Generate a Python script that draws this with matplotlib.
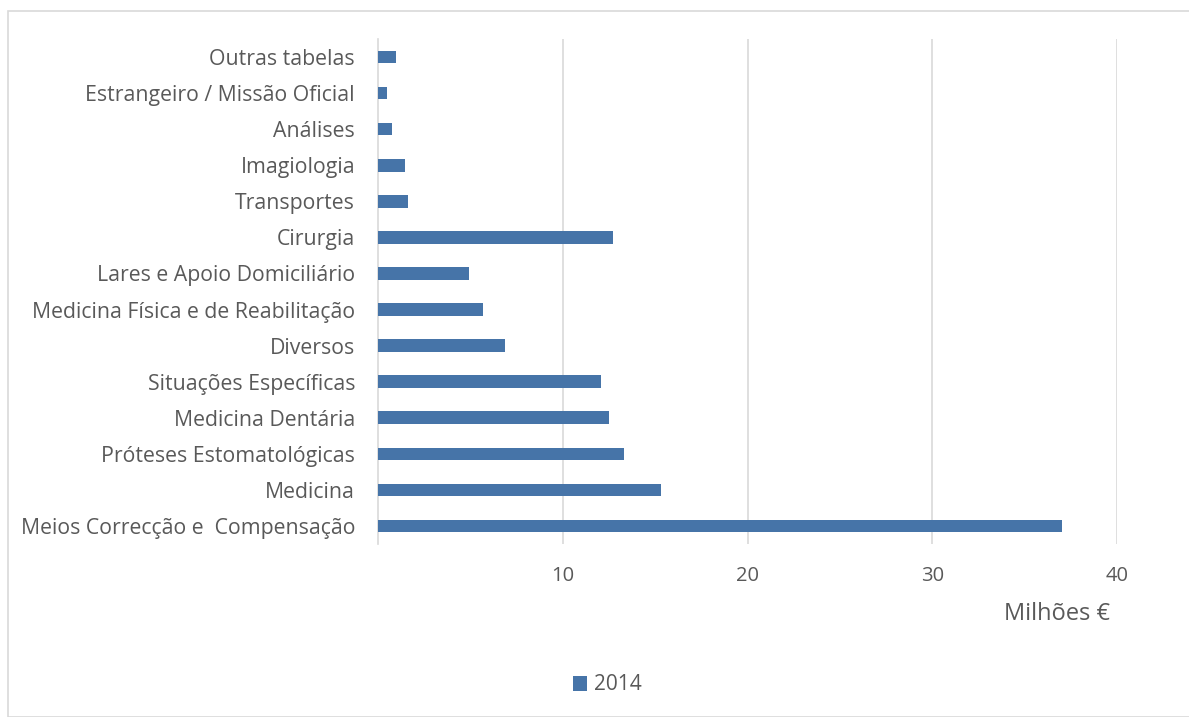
import matplotlib.pyplot as plt
from matplotlib.patches import Rectangle

plt.rcParams['font.family'] = ['Open Sans', 'DejaVu Sans']

# categorias (de baixo para cima)
categorias = ['Meios Correcção e  Compensação', 'Medicina', 'Próteses Estomatológicas',
              'Medicina Dentária', 'Situações Específicas', 'Diversos',
              'Medicina Física e de Reabilitação', 'Lares e Apoio Domiciliário',
              'Cirurgia', 'Transportes', 'Imagiologia', 'Análises',
              'Estrangeiro / Missão Oficial', 'Outras tabelas']
# valores 2014 (milhões €)
valores_2014 = [37.05, 15.3, 13.33, 12.5, 12.06, 6.89, 5.7, 4.95,
                12.73, 1.6, 1.45, 0.78, 0.5, 0.95]
xticks = [10, 20, 30, 40]

cor = '#4674a8'
cinza = '#595959'

fig = plt.figure(figsize=(11.89, 7.17), dpi=100)
ax = fig.add_axes([378/1189, 1 - 544/717, (1117 - 378)/1189, (544 - 39)/717])

ax.barh(range(len(categorias)), valores_2014, height=0.35, color=cor, label='2014', zorder=3)

ax.set_xlim(0, 40)
ax.set_ylim(-0.5, len(categorias) - 0.5)
ax.set_xticks(xticks)
ax.set_yticks(range(len(categorias)))
ax.set_yticklabels(categorias, fontsize=15.3, color=cinza)
ax.tick_params(axis='x', labelsize=14.5, labelcolor=cinza, length=0, pad=16)
ax.tick_params(axis='y', length=0, pad=16.5)
ax.grid(axis='x', color='#d9d9d9', linewidth=1.2, zorder=0)
for s in ['top', 'right', 'bottom']:
    ax.spines[s].set_visible(False)
ax.spines['left'].set_color('#d9d9d9')
ax.spines['left'].set_linewidth(1.2)

fig.text(1110/1189, 1 - 614/717, 'Milhões €', fontsize=17, color=cinza, ha='right', va='center')

leg = fig.legend(loc='center', bbox_to_anchor=(607/1189, 1 - 685/717), frameon=False,
                 fontsize=15, handlelength=0.7, handleheight=0.7, handletextpad=0.3)
for t in leg.get_texts():
    t.set_color(cinza)

# moldura do gráfico
fig.patches.append(Rectangle((8/1189, 0), 1.0, 1 - 11/717, transform=fig.transFigure,
                             fill=False, edgecolor='#d9d9d9', linewidth=1.2))

fig.savefig('out.png', dpi=100)
